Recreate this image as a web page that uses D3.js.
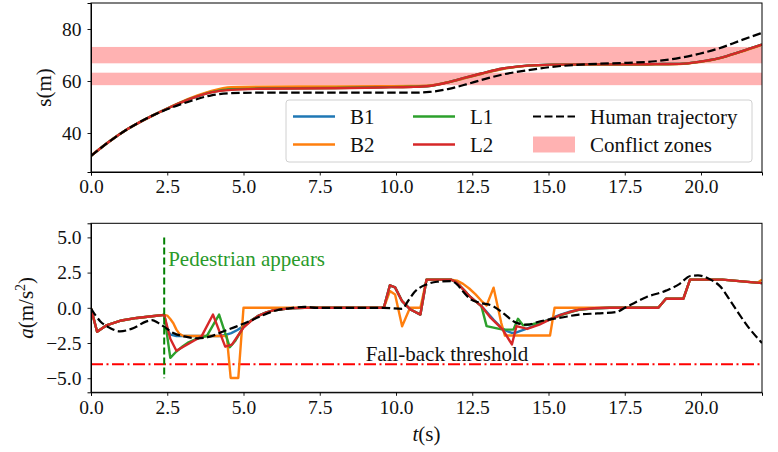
<!DOCTYPE html>
<html>
<head>
<meta charset="utf-8">
<script src="https://cdn.jsdelivr.net/npm/d3@7"></script>
<style>
body{margin:0;background:#fff;}
</style>
</head>
<body>
<script>
// top panel: position s(m) on a common time grid
var posT = [0,0.6,1.2,2.0,2.6,3.3,3.95,4.6,5.5,8.0,9.5,10.5,11.1,11.7,12.3,12.8,13.5,14.3,15.1,16.2,17.6,18.5,19.3,19.95,20.6,21.3,22];
var posHuman = [31.2,36.7,41.5,46.6,49.6,52.4,54.5,55.3,55.5,55.5,55.5,55.5,55.8,56.9,58.7,60.4,62.5,64.1,65.4,66.4,67.0,67.6,68.9,70.5,72.6,75.6,78.5];
var posB1 = [31.2,36.7,41.5,46.6,49.95,53.4,55.9,57.1,57.4,57.5,57.7,57.9,58.2,59.5,61.3,62.8,64.7,65.9,66.3,66.4,66.4,66.5,66.6,67.4,68.8,71.3,74.0];
var posB2 = [31.2,36.7,41.5,46.6,50.0,53.6,56.2,57.6,57.8,57.9,58.0,58.1,58.3,59.5,61.2,62.7,64.6,65.8,66.2,66.3,66.3,66.4,66.5,67.3,68.7,71.2,73.9];
var posL1 = [31.2,36.7,41.5,46.6,49.9,53.3,55.7,56.8,57.1,57.3,57.6,57.8,58.1,59.5,61.4,62.9,64.8,65.9,66.3,66.4,66.4,66.5,66.6,67.4,68.8,71.3,74.0];
var posL2 = [31.2,36.7,41.5,46.6,49.9,53.3,55.6,56.6,57.0,57.2,57.5,57.7,58.1,59.5,61.4,62.9,64.8,65.9,66.3,66.4,66.4,66.5,66.6,67.4,68.8,71.3,74.0];
var conflictZones = [[58.4,63.2],[66.8,73.1]];

// bottom panel: acceleration, each series has its own time points
var accB1T = [0,0.2,0.5,1.0,1.5,2.0,2.4,2.5,2.6,2.8,4.2,4.4,4.6,4.8,5.0,5.25,5.5,5.75,6.0,6.5,7.0,9.6,9.8,9.97,10.2,10.46,10.8,11.0,11.8,11.95,12.1,12.25,12.4,12.6,12.8,13.0,13.2,13.4,13.6,13.8,13.95,14.2,14.5,14.8,15.0,15.2,15.4,15.7,16.0,16.5,17.0,18.6,18.85,19.42,19.64,20.7,22];
var accB1 = [-0.05,-1.7,-1.25,-0.9,-0.72,-0.6,-0.5,-1.5,-1.9,-2.0,-2.0,-1.93,-1.8,-1.58,-1.3,-0.9,-0.55,-0.32,-0.17,-0.04,0,0,1.6,1.45,0.47,-0.1,-0.48,2.0,2.0,1.85,1.55,1.2,0.85,0.48,0.12,-0.35,-0.85,-1.3,-1.62,-1.78,-1.75,-1.55,-1.3,-1.0,-0.85,-0.65,-0.48,-0.27,-0.12,-0.03,0,0,0.64,0.64,2.0,2.0,1.75];
var accB2T = [0,0.2,0.5,1.0,1.5,2.0,2.4,2.5,2.6,2.7,2.8,2.9,3.03,4.45,4.58,4.83,5.0,9.6,9.8,9.97,10.2,10.46,10.8,11.0,11.8,12.0,12.2,12.4,12.6,12.8,12.97,13.2,13.45,13.57,15.05,15.2,18.6,18.85,19.42,19.64,20.7,21.85,22];
var accB2 = [-0.05,-1.7,-1.25,-0.9,-0.72,-0.6,-0.5,-0.55,-0.8,-1.1,-1.55,-1.85,-2.0,-2.0,-4.98,-4.98,0,0,1.19,0.95,-1.31,0,0,2.0,2.0,1.93,1.7,1.37,0.97,0.5,0.16,1.43,-1.07,-1.97,-1.97,0,0,0.64,0.64,2.0,2.0,1.78,2.0];
var accL1T = [0,0.2,0.5,1.0,1.5,2.0,2.4,2.6,2.8,3.0,3.2,3.4,3.6,3.8,4.2,4.55,4.72,5.0,5.25,5.5,5.75,6.0,6.5,7.0,9.6,9.8,9.97,10.2,10.46,10.8,11.0,11.8,11.95,12.1,12.25,12.4,12.6,12.8,12.97,13.5,13.85,14.0,14.17,14.5,14.8,15.0,15.2,15.4,15.7,16.0,16.5,17.0,18.6,18.85,19.42,19.64,20.7,22];
var accL1 = [-0.05,-1.7,-1.25,-0.9,-0.72,-0.6,-0.5,-3.55,-3.1,-2.75,-2.45,-2.25,-2.1,-2.0,-0.48,-2.8,-2.38,-1.35,-0.9,-0.55,-0.32,-0.17,-0.04,0,0,1.6,1.45,0.47,-0.1,-0.48,2.0,2.0,1.85,1.55,1.2,0.85,0.48,0.12,-1.3,-1.55,-1.55,-0.78,-1.25,-1.15,-1.0,-0.88,-0.7,-0.53,-0.32,-0.15,-0.04,0,0,0.64,0.64,2.0,2.0,1.75];
var accL2T = [0,0.2,0.5,1.0,1.5,2.0,2.4,2.6,2.8,3.0,3.2,3.4,3.62,4.0,4.4,4.62,5.0,5.25,5.5,5.75,6.0,6.5,7.0,9.6,9.8,9.97,10.2,10.46,10.8,11.0,11.8,11.95,12.1,12.25,12.4,12.6,12.8,13.1,13.5,13.8,13.95,14.3,14.7,15.0,15.2,15.4,15.7,16.0,16.5,17.0,18.6,18.85,19.42,19.64,20.7,22];
var accL2 = [-0.05,-1.7,-1.25,-0.9,-0.72,-0.6,-0.5,-2.2,-3.05,-2.8,-2.55,-2.3,-2.05,-0.48,-2.76,-2.62,-1.4,-0.92,-0.55,-0.32,-0.17,-0.04,0,0,1.6,1.45,0.47,-0.1,-0.48,2.0,2.0,1.85,1.55,1.2,0.85,0.48,0.12,-0.7,-1.55,-2.6,-1.3,-1.5,-1.2,-0.88,-0.7,-0.5,-0.3,-0.13,-0.03,0,0,0.64,0.64,2.0,2.0,1.75];
var accHumanT = [0,0.3,0.62,0.95,1.4,1.8,2.0,2.2,2.4,2.7,3.1,3.5,3.9,4.35,4.8,5.2,5.5,5.8,6.1,6.5,7.0,7.4,9.6,10.2,10.4,10.6,11.0,11.35,11.8,12.0,12.2,12.45,12.75,13.2,13.5,13.95,14.3,14.7,15.0,15.4,16.0,16.6,17.2,17.55,18.2,18.85,19.3,19.65,19.9,20.3,20.62,21.05,21.55,22];
var accHuman = [-0.05,-0.95,-1.43,-1.67,-1.43,-0.98,-0.88,-1.07,-1.35,-1.79,-2.05,-2.17,-2.05,-1.67,-1.3,-0.95,-0.65,-0.38,-0.17,-0.04,0.07,0,0,-0.07,0.5,1.1,1.66,1.85,1.9,1.66,1.15,0.6,0.36,0.1,-0.36,-1.07,-1.2,-0.97,-0.84,-0.7,-0.48,-0.4,-0.31,0.05,0.75,1.22,1.7,2.26,2.3,2.02,1.54,0.2,-1.37,-2.5];

var pedTime = 2.4;
var fallbackThreshold = -4;

var xTicks = [0,2.5,5,7.5,10,12.5,15,17.5,20];
var sTicks = [40,60,80];
var aTicks = [-5,-2.5,0,2.5,5];

var seriesNames = ["B1","B2","L1","L2"];
var seriesColors = ["#1f77b4","#ff7f0e","#2ca02c","#d62728"];

var width = 778, height = 452;
var left = 91, right = 762;
var serif = "'Liberation Serif', 'DejaVu Serif', serif";
var textSize = "21px";

var svg = d3.select("body").append("svg")
	.attr("width", width)
	.attr("height", height);

var x = d3.scaleLinear().domain([0,22]).range([left,right]);
var yS = d3.scaleLinear().domain([25,90]).range([172,3]);
var yA = d3.scaleLinear().domain([-6,6]).range([392.3,223.3]);

var defs = svg.append("defs");
defs.append("clipPath").attr("id","clipTop").append("rect")
	.attr("x",left).attr("y",3).attr("width",right-left).attr("height",169);
defs.append("clipPath").attr("id","clipBot").append("rect")
	.attr("x",left).attr("y",223.3).attr("width",right-left).attr("height",169);

function fmt(d){ return d3.format(".1f")(d); }

// ---------- top panel ----------
var topG = svg.append("g");
var topPlot = topG.append("g").attr("clip-path","url(#clipTop)");

topPlot.selectAll("rect.zone")
	.data(conflictZones)
	.enter().append("rect")
	.attr("class","zone")
	.attr("x", left)
	.attr("width", right-left)
	.attr("y", function(d){ return yS(d[1]); })
	.attr("height", function(d){ return yS(d[0]) - yS(d[1]); })
	.style("fill","#ff0000")
	.style("opacity",0.3);

var posSeries = [posB1,posB2,posL1,posL2];
var lineS = d3.line()
	.x(function(d){ return x(d[0]); })
	.y(function(d){ return yS(d[1]); })
	.curve(d3.curveMonotoneX);

posSeries.forEach(function(vals,i){
	topPlot.append("path")
		.datum(posT.map(function(t,j){ return [t, vals[j]]; }))
		.attr("d", lineS)
		.style("fill","none")
		.style("stroke",seriesColors[i])
		.style("stroke-width",2.4);
});
topPlot.append("path")
	.datum(posT.map(function(t,j){ return [t, posHuman[j]]; }))
	.attr("d", lineS)
	.style("fill","none")
	.style("stroke","#000")
	.style("stroke-width",2.2)
	.style("stroke-dasharray","8.5,3.5");

topG.append("g")
	.attr("transform","translate(0,172)")
	.call(d3.axisBottom(x).tickValues(xTicks).tickFormat(fmt).tickSizeOuter(0).tickSize(3.5).tickPadding(4));
topG.append("g")
	.attr("transform","translate("+left+",0)")
	.call(d3.axisLeft(yS).tickValues(sTicks).tickFormat(d3.format("d")).tickSizeOuter(0).tickSize(3.5).tickPadding(6));

topG.append("rect")
	.attr("x",left).attr("y",3).attr("width",right-left).attr("height",169)
	.style("fill","none").style("stroke","#000").style("stroke-width",1);

topG.append("text")
	.attr("transform","translate(51,"+((3+172)/2)+") rotate(-90)")
	.attr("text-anchor","middle")
	.style("font-size",textSize)
	.text("s(m)");

// legend
var legend = topG.append("g");
legend.append("rect")
	.attr("x",286).attr("y",100).attr("width",466).attr("height",62)
	.attr("rx",3)
	.style("fill","#fff").style("fill-opacity",0.8)
	.style("stroke","#d0d0d0").style("stroke-width",1);

var legendItems = [
	{name:seriesNames[0], color:seriesColors[0], col:0, row:0},
	{name:seriesNames[1], color:seriesColors[1], col:0, row:1},
	{name:seriesNames[2], color:seriesColors[2], col:1, row:0},
	{name:seriesNames[3], color:seriesColors[3], col:1, row:1}
];
var colX = [293,413,533];
var rowY = [116.5,144.5];
legendItems.forEach(function(it){
	legend.append("line")
		.attr("x1",colX[it.col]).attr("x2",colX[it.col]+42)
		.attr("y1",rowY[it.row]).attr("y2",rowY[it.row])
		.style("stroke",it.color).style("stroke-width",2.4);
	legend.append("text")
		.attr("x",colX[it.col]+57).attr("y",rowY[it.row]+7)
		.style("font-size",textSize)
		.text(it.name);
});
legend.append("line")
	.attr("x1",colX[2]).attr("x2",colX[2]+42)
	.attr("y1",rowY[0]).attr("y2",rowY[0])
	.style("stroke","#000").style("stroke-width",2.2).style("stroke-dasharray","8,3.5");
legend.append("text")
	.attr("x",colX[2]+57).attr("y",rowY[0]+7)
	.style("font-size",textSize)
	.text("Human trajectory");
legend.append("rect")
	.attr("x",colX[2]).attr("y",rowY[1]-8).attr("width",42).attr("height",16)
	.style("fill","#ff0000").style("opacity",0.3);
legend.append("text")
	.attr("x",colX[2]+57).attr("y",rowY[1]+7)
	.style("font-size",textSize)
	.text("Conflict zones");

// ---------- bottom panel ----------
var botG = svg.append("g");
var botPlot = botG.append("g").attr("clip-path","url(#clipBot)");

var lineA = d3.line()
	.x(function(d){ return x(d[0]); })
	.y(function(d){ return yA(d[1]); });

var accSeries = [[accB1T,accB1],[accB2T,accB2],[accL1T,accL1],[accL2T,accL2]];

// fall-back threshold
botPlot.append("line")
	.attr("x1",left).attr("x2",right)
	.attr("y1",yA(fallbackThreshold)).attr("y2",yA(fallbackThreshold))
	.style("stroke","#ff0000").style("stroke-width",2)
	.style("stroke-dasharray","12,3.5,2,3.5");

accSeries.forEach(function(s,i){
	botPlot.append("path")
		.datum(s[0].map(function(t,j){ return [t, s[1][j]]; }))
		.attr("d", lineA)
		.style("fill","none")
		.style("stroke",seriesColors[i])
		.style("stroke-width",2.4)
		.style("stroke-linejoin","round");
});
botPlot.append("path")
	.datum(accHumanT.map(function(t,j){ return [t, accHuman[j]]; }))
	.attr("d", lineA.curve(d3.curveMonotoneX))
	.style("fill","none")
	.style("stroke","#000")
	.style("stroke-width",2.2)
	.style("stroke-dasharray","8.5,3.5");

// pedestrian appears
botPlot.append("line")
	.attr("x1",x(pedTime)).attr("x2",x(pedTime))
	.attr("y1",yA(5)).attr("y2",yA(-5))
	.style("stroke","#008000").style("stroke-width",2)
	.style("stroke-dasharray","7,3");

botG.append("text")
	.attr("x",x(pedTime)+4).attr("y",266)
	.style("font-size",textSize)
	.style("fill","#2a9a2a")
	.text("Pedestrian appears");
botG.append("text")
	.attr("x",447).attr("y",361)
	.attr("text-anchor","middle")
	.style("font-size",textSize)
	.text("Fall-back threshold");

botG.append("g")
	.attr("transform","translate(0,392.3)")
	.call(d3.axisBottom(x).tickValues(xTicks).tickFormat(fmt).tickSizeOuter(0).tickSize(3.5).tickPadding(4));
botG.append("g")
	.attr("transform","translate("+left+",0)")
	.call(d3.axisLeft(yA).tickValues(aTicks).tickFormat(fmt).tickSizeOuter(0).tickSize(3.5).tickPadding(6));

botG.append("rect")
	.attr("x",left).attr("y",223.3).attr("width",right-left).attr("height",169)
	.style("fill","none").style("stroke","#000").style("stroke-width",1);

var aLabel = botG.append("text")
	.attr("transform","translate(33,"+((223.3+392.3)/2)+") rotate(-90)")
	.attr("text-anchor","middle")
	.style("font-size",textSize);
aLabel.append("tspan").style("font-style","italic").text("a");
aLabel.append("tspan").text("(m/s");
aLabel.append("tspan").attr("dy",-8).style("font-size","14px").text("2");
aLabel.append("tspan").attr("dy",8).text(")");

var tLabel = botG.append("text")
	.attr("x",(left+right)/2).attr("y",441)
	.attr("text-anchor","middle")
	.style("font-size",textSize);
tLabel.append("tspan").style("font-style","italic").text("t");
tLabel.append("tspan").text("(s)");

svg.selectAll(".tick text").style("font-size","19.5px");
svg.selectAll(".tick line").style("stroke","#000").style("stroke-width",0.9);
svg.selectAll(".domain").style("stroke","#000");
// serif font on every label, set inline
svg.selectAll("text").style("font-family", serif);
svg.selectAll("text").filter(function(){ return !this.style.fill; }).style("fill","#111");
</script>
</body>
</html>
